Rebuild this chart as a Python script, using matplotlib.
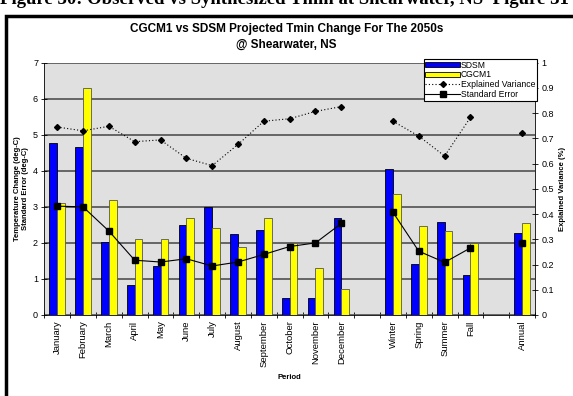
import numpy as np
import matplotlib
matplotlib.use("Agg")
import matplotlib.pyplot as plt
from matplotlib.lines import Line2D
from matplotlib.patches import Patch, Rectangle

plt.rcParams['font.family'] = ['Liberation Sans', 'DejaVu Sans']

categories = ["January", "February", "March", "April", "May", "June", "July",
              "August", "September", "October", "November", "December", "",
              "Winter", "Spring", "Summer", "Fall", "", "Annual"]
nan = np.nan
sdsm = [4.76, 4.67, 2.02, 0.82, 1.36, 2.50, 3.00, 2.24, 2.35, 0.46, 0.46, 2.70, nan,
        4.05, 1.41, 2.57, 1.10, nan, 2.28]
cgcm1 = [3.10, 6.29, 3.19, 2.10, 2.10, 2.70, 2.40, 1.90, 2.70, 2.00, 1.30, 0.71, nan,
         3.37, 2.48, 2.34, 2.00, nan, 2.54]
explained_variance = [0.745, 0.730, 0.748, 0.687, 0.694, 0.621, 0.592, 0.676, 0.768,
                      0.778, 0.807, 0.826, nan, 0.768, 0.709, 0.630, 0.783, nan, 0.723]
standard_error = [3.02, 3.00, 2.33, 1.52, 1.47, 1.56, 1.36, 1.47, 1.68, 1.90, 2.00,
                  2.54, nan, 2.85, 1.77, 1.46, 1.86, nan, 1.99]

fig = plt.figure(figsize=(5.73, 3.96), dpi=100)
fig.patch.set_facecolor('white')

# outer frame
fig.patches.append(Rectangle((6/573, -0.05), 1.2, 1 - 16/396 + 0.05,
                             transform=fig.transFigure, fill=False,
                             edgecolor='black', linewidth=2.5, zorder=0))
fig.text(0.0, 1 - 4/396, "Figure 30: Observed vs Synthesized Tmin at Shearwater, NS  Figure 31",
         family=['Liberation Serif', 'DejaVu Serif'], fontweight='bold', fontsize=13.5,
         ha='left', va='baseline')

ax = fig.add_axes([44.3/573, (396-315)/396, (535-44.3)/573, (315-62.7)/396])
ax.set_facecolor('#e0e0e0')
x = np.arange(len(categories))
w = 0.3
ax.bar(x - w/2, sdsm, width=w, color='#0000ff', edgecolor='black', linewidth=0.6, zorder=3)
ax.bar(x + w/2, cgcm1, width=w, color='#ffff00', edgecolor='#555555', linewidth=0.6, zorder=3)
ax.plot(x, standard_error, color='black', linewidth=0.8, marker='s', markersize=4, zorder=5)

ax.set_xlim(-0.5, len(categories) - 0.5)
ax.set_ylim(0, 7)
ax.set_yticks(range(8))
ax.yaxis.grid(True, color='#505050', linewidth=1.2, zorder=1)
ax.set_axisbelow(True)
ax.set_xticks(np.arange(-0.5, len(categories), 1.0))
ax.set_xticklabels([])
ax.set_xticks(x, minor=True)
ax.set_xticklabels(categories, minor=True, rotation=90, fontsize=6.8)
ax.tick_params(axis='x', which='minor', length=0, pad=4)
ax.tick_params(axis='x', which='major', direction='inout', length=5, width=0.6)
ax.tick_params(axis='y', direction='inout', length=5, width=0.6, labelsize=6.5, pad=2)
for s in ['top', 'right']:
    ax.spines[s].set_visible(False)
for s in ['left', 'bottom']:
    ax.spines[s].set_linewidth(0.6)
ax.set_ylabel("Temperature Change (deg-C)\nStandard Error (deg-C)", fontsize=5.5,
              fontweight='bold', labelpad=3)
ax.set_xlabel("Period", fontsize=5.5, fontweight='bold', labelpad=5)

ax2 = ax.twinx()
ax2.set_ylim(0, 1)
ax2.set_yticks(np.arange(0, 1.01, 0.1))
ax2.set_yticklabels(["0", "0.1", "0.2", "0.3", "0.4", "0.5", "0.6", "0.7", "0.8", "0.9", "1"])
ax2.plot(x, explained_variance, color='black', linestyle=(0, (1, 2)), linewidth=0.8,
         marker='D', markersize=3, zorder=5)
ax2.tick_params(axis='y', direction='inout', length=5, width=0.6, labelsize=6.5, pad=2)
for s in ['top', 'left', 'bottom']:
    ax2.spines[s].set_visible(False)
ax2.spines['right'].set_linewidth(0.6)
ax2.set_ylabel("Explained Variance (%)", fontsize=5.5, fontweight='bold', labelpad=4)

handles = [Patch(facecolor='#0000ff', edgecolor='black', linewidth=0.6),
           Patch(facecolor='#ffff00', edgecolor='black', linewidth=0.6),
           Line2D([], [], color='black', linestyle=(0, (1, 2)), marker='D', markersize=3, linewidth=0.8),
           Line2D([], [], color='black', marker='s', markersize=4, linewidth=0.8)]
leg = ax2.legend(handles, ["SDSM", "CGCM1", "Explained Variance", "Standard Error"],
                 loc='upper right', bbox_to_anchor=(1.004, 1.015), fontsize=6.2,
                 frameon=True, fancybox=False, edgecolor='black', framealpha=1,
                 borderpad=0.2, labelspacing=0.1, handlelength=4.0, handletextpad=0.1,
                 handleheight=0.6, borderaxespad=0)
leg.get_frame().set_linewidth(0.8)

fig.text(0.5, 1 - 37/396, "CGCM1 vs SDSM Projected Tmin Change For The 2050s\n@ Shearwater, NS",
         ha='center', va='center', fontsize=8.5, fontweight='bold', linespacing=1.5)

fig.savefig("out.png", dpi=100)
